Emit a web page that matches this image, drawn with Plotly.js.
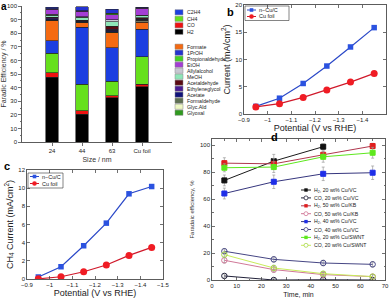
<!DOCTYPE html>
<html><head><meta charset="utf-8">
<script src="https://cdn.plot.ly/plotly-3.0.1.min.js"></script>
<style>html,body{margin:0;padding:0;background:#fff}#g{width:392px;height:301px}</style>
</head><body><div id="g"></div>
<script>
// ---------- Panel a: Faradaic efficiency by size ----------
const sizeLabels = ['24', '44', '63', 'Cu foil'];
const sizePos = [1, 2, 3, 4];
const feH2 = [47.7, 20.5, 32.5, 40.8];
const feCO = [3.2, 2.3, 1.5, 1.7];
const feCH4 = [14.4, 19.7, 10.5, 20.3];
const feC2H4 = [9.0, 41.8, 24.7, 20.1];
const feFormate = [14.8, 3.3, 11.3, 5.2];
const feGlyoxal = [0.3, 0.2, 0.2, 0.2];
const feGlycAld = [0.3, 0.2, 0.2, 1.0];
const feFormaldehyde = [0.3, 0.2, 0.3, 0.3];
const feAcetate = [0.8, 0.5, 1.0, 0.8];
const feEthyleneglycol = [0.4, 0.3, 0.8, 0.3];
const feAcetaldehyde = [0.7, 0.6, 2.0, 0.6];
const feMeOH = [1.3, 2.0, 3.5, 1.5];
const feAllylalcohol = [0.8, 0.6, 1.5, 0.5];
const feEtOH = [3.5, 4.0, 3.5, 5.0];
const fePropionaldehyde = [0.5, 0.4, 1.0, 0.3];
const fe1PrOH = [1.0, 3.0, 3.0, 0.5];

// ---------- Panels b, c: current vs potential ----------
const potential = [-0.95, -1.05, -1.15, -1.25, -1.35, -1.45];
const currentNCu = [1.4, 2.9, 5.6, 8.8, 12.3, 15.85];
const currentFoil = [1.3, 1.9, 3.05, 4.4, 5.85, 7.45];
const ch4NCu = [0.22, 1.35, 3.66, 6.15, 9.38, 10.18];
const ch4Foil = [0.02, 0.25, 0.8, 1.54, 2.6, 3.48];

// ---------- Panel d: FE vs time ----------
const timeMin = [5, 25, 45, 65];
const h2CuVC20 = [73.8, 88.1, 98.8];
const coCuVC20 = [3.0, 0.0, 0.2, 0.0];
const h2CuKB50 = [86.6, 86.1, 92.8, 99.3];
const coCuKB50 = [14.6, 7.7, 4.0, 2.5];
const h2CuVC40 = [64.1, 72.8, 78.7, 79.5];
const coCuVC40 = [21.3, 15.3, 12.6, 11.6];
const h2SWNT20 = [83.2, 83.7, 91.3, 94.3];
const coSWNT20 = [18.8, 8.9, 4.7, 2.5];
const errH2CuVC20 = [4, 5, 2];
const errCoCuVC20 = [1.5, 1, 1, 1];
const errH2CuKB50 = [4, 4, 3, 2];
const errCoCuKB50 = [2, 2, 1.5, 1.5];
const errH2CuVC40 = [4, 5, 5, 5];
const errCoCuVC40 = [2, 2, 2, 2];
const errH2SWNT20 = [3, 4, 4, 4];
const errCoSWNT20 = [2, 2, 1.5, 1.5];

const W = 392, H = 301;
function X(p) { return p / W; }
function Y(p) { return 1 - p / H; }
const FONT = 'Liberation Sans, Arial, sans-serif';

// stacking order (bottom to top)
const stack = [
  ['H2', feH2, '#000000'],
  ['CO', feCO, '#ee1111'],
  ['CH4', feCH4, '#66e01c'],
  ['C2H4', feC2H4, '#1b3ee0'],
  ['Formate', feFormate, '#f46a12'],
  ['Glyoxal', feGlyoxal, '#2f9a1e'],
  ['Glyc.Ald', feGlycAld, '#eef8c4'],
  ['Formaldehyde', feFormaldehyde, '#5f7052'],
  ['Acetate', feAcetate, '#10127a'],
  ['Ethyleneglycol', feEthyleneglycol, '#4a1c92'],
  ['Acetaldehyde', feAcetaldehyde, '#5a0a12'],
  ['MeOH', feMeOH, '#8fe6b8'],
  ['Allylalcohol', feAllylalcohol, '#c8c8d2'],
  ['EtOH', feEtOH, '#a43ed4'],
  ['Propionaldehyde', fePropionaldehyde, '#46d222'],
  ['1PrOH', fe1PrOH, '#2432d0']
];
const colorOf = {};
stack.forEach(s => colorOf[s[0]] = s[2]);

const traces = [];
stack.forEach(s => {
  traces.push({
    type: 'bar', x: sizePos, y: s[1], name: s[0], width: 0.43,
    marker: { color: s[2], line: { color: '#222', width: 0.6 } },
    xaxis: 'x', yaxis: 'y'
  });
});

// panel b
traces.push({ x: potential, y: currentNCu, mode: 'lines+markers', xaxis: 'x2', yaxis: 'y2',
  line: { color: '#2a48c8', width: 1.2 }, marker: { symbol: 'square', size: 5.5, color: '#2b52e0' } });
traces.push({ x: potential, y: currentFoil, mode: 'lines+markers', xaxis: 'x2', yaxis: 'y2',
  line: { color: '#d0182a', width: 1.2 }, marker: { symbol: 'circle', size: 7, color: '#f01c24' } });
// panel c
traces.push({ x: potential, y: ch4NCu, mode: 'lines+markers', xaxis: 'x3', yaxis: 'y3',
  line: { color: '#2a48c8', width: 1.2 }, marker: { symbol: 'square', size: 5.5, color: '#2b52e0' } });
traces.push({ x: potential, y: ch4Foil, mode: 'lines+markers', xaxis: 'x3', yaxis: 'y3',
  line: { color: '#d0182a', width: 1.2 }, marker: { symbol: 'circle', size: 7, color: '#f01c24' } });

// panel d
const dSeries = [
  [h2CuVC20, errH2CuVC20, '#1a1a1a', 'square', '#111111', true],
  [coCuVC20, errCoCuVC20, '#22223a', 'circle-open', '#22223a', false],
  [h2CuKB50, errH2CuKB50, '#b0384e', 'square', '#e01e1e', true],
  [coCuKB50, errCoCuKB50, '#d07898', 'circle-open', '#d07898', false],
  [h2CuVC40, errH2CuVC40, '#36367e', 'square', '#1e2ee8', true],
  [coCuVC40, errCoCuVC40, '#464684', 'circle-open', '#464684', false],
  [h2SWNT20, errH2SWNT20, '#5ee81e', 'square', '#5ee81e', true],
  [coSWNT20, errCoSWNT20, '#c8ec5a', 'circle-open', '#a8d84a', false]
];
dSeries.forEach(s => {
  traces.push({
    x: timeMin.slice(0, s[0].length), y: s[0], mode: 'lines+markers', xaxis: 'x4', yaxis: 'y4',
    line: { color: s[2], width: 1 },
    marker: { symbol: s[3], size: s[5] ? 5 : 5.5, color: s[4], line: { color: s[4], width: 1 } },
    error_y: { type: 'data', array: s[1], visible: true, color: '#9a9a9a', thickness: 0.7, width: 1.5 }
  });
});

const shapes = [];
const ann = [];
function txt(x, y, t, size, opts) {
  ann.push(Object.assign({ xref: 'paper', yref: 'paper', x: X(x), y: Y(y), text: t, showarrow: false,
    xanchor: 'left', yanchor: 'middle', font: { family: FONT, size: size, color: '#222' }, borderpad: 0 }, opts || {}));
}
// panel labels
txt(0, 6, '<b>a</b>', 10, { font: { family: FONT, size: 10, color: '#000' } });
txt(226, 12, '<b>b</b>', 11, { font: { family: FONT, size: 11, color: '#000' } });
txt(3, 166, '<b>c</b>', 11, { font: { family: FONT, size: 11, color: '#000' } });
txt(270, 137, '<b>d</b>', 11, { font: { family: FONT, size: 11, color: '#000' } });

// panel a legend
const legGas = ['C2H4', 'CH4', 'CO', 'H2'];
const legLiq = ['Formate', '1PrOH', 'Propionaldehyde', 'EtOH', 'Allylalcohol', 'MeOH', 'Acetaldehyde',
  'Ethyleneglycol', 'Acetate', 'Formaldehyde', 'Glyc.Ald', 'Glyoxal'];
function legA(name, y) {
  shapes.push({ type: 'rect', xref: 'paper', yref: 'paper', x0: X(175), x1: X(183), y0: Y(y + 2.6), y1: Y(y - 2.6),
    fillcolor: colorOf[name], line: { color: '#888', width: 0.5 } });
  txt(185.5, y, name, 5.2);
}
legGas.forEach((n, i) => legA(n, 12.3 + i * 6.5));
legLiq.forEach((n, i) => legA(n, 46.7 + i * 6.0));

// legends b & c
function legBC(x0, y0, x1, y1, yA, yB) {
  shapes.push({ type: 'rect', xref: 'paper', yref: 'paper', x0: X(x0), x1: X(x1), y0: Y(y1), y1: Y(y0),
    fillcolor: 'rgba(255,255,255,0)', line: { color: '#333', width: 0.6 } });
  const lx0 = x0 + 2, lx1 = x0 + 11, mx = x0 + 6.5;
  shapes.push({ type: 'line', xref: 'paper', yref: 'paper', x0: X(lx0), x1: X(lx1), y0: Y(yA), y1: Y(yA), line: { color: '#2a48c8', width: 1 } });
  shapes.push({ type: 'rect', xref: 'paper', yref: 'paper', x0: X(mx - 1.8), x1: X(mx + 1.8), y0: Y(yA + 1.8), y1: Y(yA - 1.8), fillcolor: '#2b52e0', line: { width: 0 } });
  shapes.push({ type: 'line', xref: 'paper', yref: 'paper', x0: X(lx0), x1: X(lx1), y0: Y(yB), y1: Y(yB), line: { color: '#d0182a', width: 1 } });
  shapes.push({ type: 'circle', xref: 'paper', yref: 'paper', x0: X(mx - 2.3), x1: X(mx + 2.3), y0: Y(yB + 2.3), y1: Y(yB - 2.3), fillcolor: '#f01c24', line: { width: 0 } });
  txt(x0 + 12.5, yA, 'n−Cu/C', 5.5);
  txt(x0 + 12.5, yB, 'Cu foil', 5.5);
}
legBC(245, 6, 289, 20.5, 10, 16.5);
legBC(28, 173, 63, 188, 176.5, 183.5);

// panel d legend
const legD = ['H<sub>2</sub>, 20 wt% Cu/VC', 'CO, 20 wt% Cu/VC', 'H<sub>2</sub>, 50 wt% Cu/KB', 'CO, 50 wt% Cu/KB',
  'H<sub>2</sub>, 40 wt% Cu/VC', 'CO, 40 wt% Cu/VC', 'H<sub>2</sub>, 20 wt% Cu/SWNT', 'CO, 20 wt% Cu/SWNT'];
legD.forEach((t, i) => {
  const y = 190 + i * 7.9, s = dSeries[i];
  shapes.push({ type: 'line', xref: 'paper', yref: 'paper', x0: X(301), x1: X(311), y0: Y(y), y1: Y(y), line: { color: s[2], width: 1 } });
  if (s[5]) {
    shapes.push({ type: 'rect', xref: 'paper', yref: 'paper', x0: X(304.3), x1: X(307.7), y0: Y(y + 1.7), y1: Y(y - 1.7), fillcolor: s[4], line: { width: 0 } });
  } else {
    shapes.push({ type: 'circle', xref: 'paper', yref: 'paper', x0: X(304), x1: X(308), y0: Y(y + 2), y1: Y(y - 2), fillcolor: '#fff', line: { color: s[4], width: 0.8 } });
  }
  txt(312.5, y, t, 5.2);
});

const baseAx = { showline: true, linecolor: '#333', linewidth: 0.8, zeroline: false, showgrid: false,
  tickfont: { family: FONT, size: 6, color: '#222' }, tickcolor: '#333', ticklen: 3, tickwidth: 0.7 };
function ax(o) { return Object.assign({}, baseAx, o); }

const layout = {
  width: W, height: H, margin: { l: 0, r: 0, t: 0, b: 0 },
  paper_bgcolor: '#fff', plot_bgcolor: 'rgba(0,0,0,0)', showlegend: false, barmode: 'stack',
  font: { family: FONT },
  xaxis: ax({ domain: [X(22), X(172)], range: [0, 5], tickvals: sizePos, ticktext: sizeLabels, ticks: 'outside', anchor: 'y',
    title: { text: 'Size / nm', font: { family: FONT, size: 7, color: '#333' }, standoff: 3 } }),
  yaxis: ax({ domain: [Y(142), Y(6)], range: [0, 100], dtick: 10, ticks: 'outside', anchor: 'x',
    minor: { dtick: 5, ticklen: 1.5, ticks: 'outside', tickcolor: '#333' },
    title: { text: 'Faradic Efficiency / %', font: { family: FONT, size: 7, color: '#333' }, standoff: 3 } }),
  xaxis2: ax({ domain: [X(244), X(386)], range: [-0.9, -1.5], dtick: 0.1, tick0: -0.9, ticks: 'inside', mirror: 'ticks', anchor: 'y2',
    title: { text: 'Potential (V vs RHE)', font: { family: FONT, size: 9, color: '#222' }, standoff: 2 } }),
  yaxis2: ax({ domain: [Y(114), Y(5)], range: [0, 20], dtick: 5, ticks: 'inside', mirror: 'ticks', anchor: 'x2',
    title: { text: 'Current (mA/cm<sup>2</sup>)', font: { family: FONT, size: 9, color: '#222' }, standoff: 3 } }),
  xaxis3: ax({ domain: [X(27), X(163)], range: [-0.9, -1.5], dtick: 0.1, tick0: -0.9, ticks: 'inside', mirror: 'ticks', anchor: 'y3',
    title: { text: 'Potential (V vs RHE)', font: { family: FONT, size: 9, color: '#222' }, standoff: 1 } }),
  yaxis3: ax({ domain: [Y(279), Y(170)], range: [0, 12], dtick: 2, ticks: 'inside', mirror: 'ticks', anchor: 'x3',
    title: { text: 'CH<sub>4</sub> Current (mA/cm<sup>2</sup>)', font: { family: FONT, size: 9, color: '#222' }, standoff: 3 } }),
  xaxis4: ax({ domain: [X(212), X(385)], range: [0, 70], dtick: 10, ticks: 'inside', mirror: 'ticks', anchor: 'y4',
    minor: { dtick: 5, ticklen: 1.5, ticks: 'inside', tickcolor: '#333' },
    title: { text: 'Time, min', font: { family: FONT, size: 7, color: '#222' }, standoff: 3 } }),
  yaxis4: ax({ domain: [Y(280), Y(139)], range: [0, 104.5], dtick: 20, ticks: 'inside', mirror: 'ticks', anchor: 'x4',
    minor: { dtick: 10, ticklen: 1.5, ticks: 'inside', tickcolor: '#333' },
    title: { text: 'Faradaic efficiency, %', font: { family: FONT, size: 6, color: '#333' }, standoff: 4 } }),
  shapes: shapes, annotations: ann
};
Plotly.newPlot('g', traces, layout, { staticPlot: true, displayModeBar: false });
</script>
</body></html>
